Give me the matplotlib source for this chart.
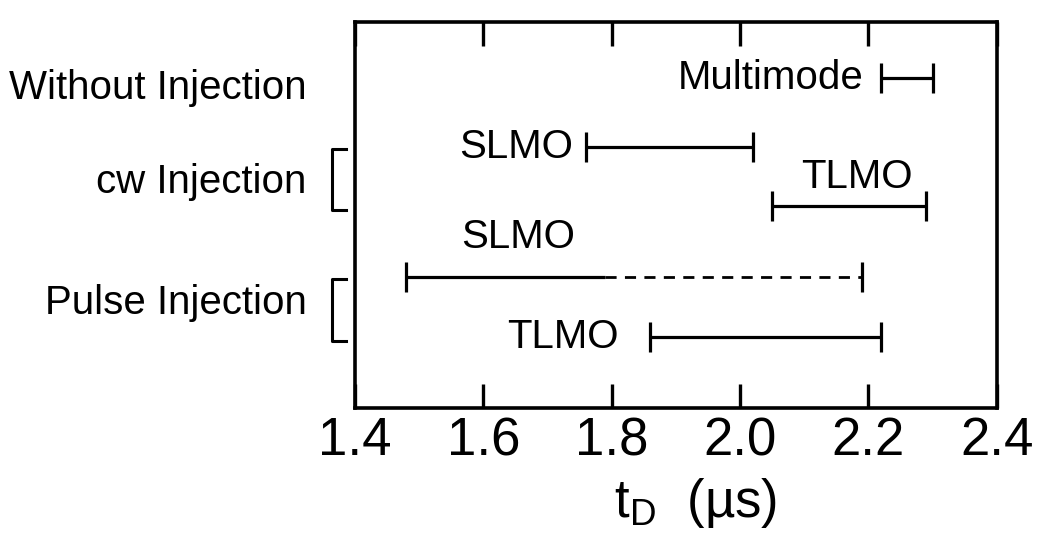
import matplotlib
matplotlib.use("Agg")
import matplotlib.pyplot as plt
import matplotlib.transforms as mtransforms

plt.rcParams['font.family'] = ['Liberation Sans', 'DejaVu Sans']
plt.rcParams['mathtext.fontset'] = 'custom'
plt.rcParams['mathtext.rm'] = 'Liberation Sans'
plt.rcParams['mathtext.it'] = 'Liberation Sans'

# Delay-time ranges (µs) for each operating regime
labels = ['Multimode', 'SLMO', 'TLMO', 'SLMO', 'TLMO']
starts = [2.22, 1.76, 2.05, 1.48, 1.86]
ends = [2.30, 2.02, 2.29, 1.79, 2.22]
dashed_ends = [None, None, None, 2.19, None]
rows = [0.145, 0.324, 0.477, 0.661, 0.816]

groups = ['Without Injection', 'cw Injection', 'Pulse Injection']
group_rows = [0.171, 0.415, 0.728]
brackets = [None, (1, 2), (3, 4)]

xticks = [1.4, 1.6, 1.8, 2.0, 2.2, 2.4]
xticklabels = ['1.4', '1.6', '1.8', '2.0', '2.2', '2.4']

fig = plt.figure(figsize=(10.47, 5.39), dpi=100)
ax = fig.add_axes([0.339, 0.243, 0.613, 0.716])
ax.set_xlim(1.4, 2.4)
ax.set_ylim(1, 0)

lw = 2.3
fs = 29
for lab, a, b, d, y in zip(labels, starts, ends, dashed_ends, rows):
    ax.plot([a, b], [y, y], color='black', lw=lw, solid_capstyle='butt')
    right = b
    if d is not None:
        ax.plot([b, d], [y, y], color='black', lw=2.0, ls=(0, (4, 3)))
        right = d
    ax.plot([a, right], [y, y], ls='none', marker='|', markersize=21,
            mew=lw, color='black')

# Mode labels
ax.text(2.192, rows[0], labels[0], ha='right', va='center', fontsize=fs)
ax.text(1.740, rows[1], labels[1], ha='right', va='center', fontsize=fs)
ax.text(2.182, 0.401, labels[2], ha='center', va='center', fontsize=fs)
ax.text(1.654, 0.557, labels[3], ha='center', va='center', fontsize=fs)
ax.text(1.811, rows[4], labels[4], ha='right', va='center', fontsize=fs)

# Group labels and brackets on the left
trans = mtransforms.blended_transform_factory(ax.transAxes, ax.transData)
for name, gy, br in zip(groups, group_rows, brackets):
    ax.text(-0.075, gy, name, ha='right', va='center', fontsize=fs,
            transform=trans, clip_on=False)
    if br is not None:
        y0, y1 = rows[br[0]] + 0.005, rows[br[1]] + 0.01
        ax.plot([-0.014, -0.036, -0.036, -0.014], [y0, y0, y1, y1],
                color='black', lw=2.2, transform=trans, clip_on=False)

ax.set_xticks(xticks)
ax.set_xticklabels(xticklabels, fontsize=38)
ax.set_yticks([])
ax.tick_params(axis='x', direction='in', length=17, width=2.4, top=True,
               bottom=True, pad=6)
for s in ax.spines.values():
    s.set_linewidth(2.6)

ax.set_xlabel(r'$\mathrm{t_D}$  (µs)', fontsize=38)
ax.xaxis.set_label_coords(0.53, -0.175)

fig.savefig('out.png', dpi=100)
